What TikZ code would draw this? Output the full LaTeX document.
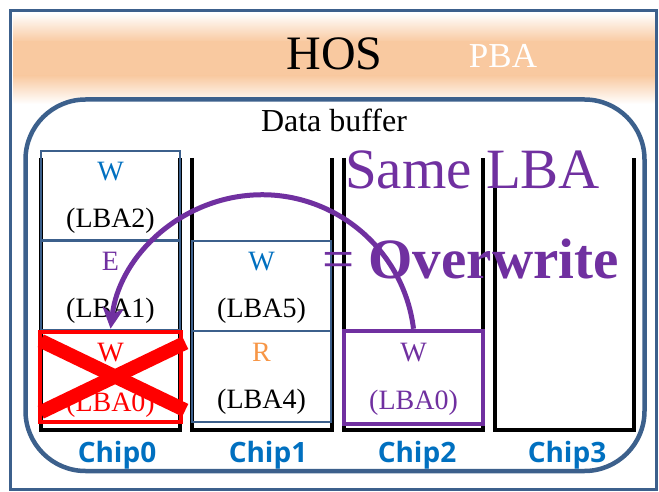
\documentclass[tikz,border=0pt]{standalone}
\usepackage{fontspec}
\setmainfont{Liberation Serif}
\newfontfamily\chipfont{Open Sans}
\usetikzlibrary{arrows.meta}
\definecolor{frameblue}{RGB}{60,96,140}
\definecolor{peach}{RGB}{249,201,160}
\definecolor{wblue}{RGB}{0,112,192}
\definecolor{vio}{RGB}{112,48,160}
\definecolor{rorange}{RGB}{247,150,70}
\newcommand{\pxsize}[1]{\fontsize{#1}{#1}\selectfont}
\begin{document}
\begin{tikzpicture}[x=1pt,y=-1pt,
  every node/.style={inner sep=0pt},
  cellbox/.style={draw=frameblue,line width=2.2,minimum width=139,minimum height=90},
  celltext/.style={font=\pxsize{28}},
  colline/.style={draw=black,line width=3.5,line join=miter},
  chiplabel/.style={anchor=base,text=wblue,font=\chipfont\bfseries\pxsize{28}},
  bigtext/.style={anchor=base west,text=vio,font=\pxsize{57}}]
\useasboundingbox (0,0) rectangle (659,492);

% heading band with soft edges
\fill[top color=white,bottom color=peach] (13,13) rectangle (655,42);
\fill[peach] (13,41.5) rectangle (655,76);
\fill[top color=peach,bottom color=white] (13,75.5) rectangle (655,104);

% outer frame
\draw[frameblue,line width=3] (10,10.5) rectangle (656.5,489.5);

\node[anchor=base,font=\pxsize{48}] (hos) at (334.5,70) {HOS};
\node[anchor=base,text=white,font=\pxsize{35}] (pba) at (503,68) {PBA};

% data buffer
\draw[frameblue,line width=4.5,fill=white,rounded corners=60] (25.5,99.5) rectangle (644.5,471);
\node[anchor=base,font=\pxsize{32}] (buf) at (334,132) {Data buffer};

% chip columns
\foreach \l/\r in {41/180,192/332,344/483,495/634}
  \draw[colline] (\l,158) -- (\l,430) -- (\r,430) -- (\r,158);

% pages
\node[cellbox,minimum height=89.5] (c0a) at (110.5,196) {};
\node[cellbox] (c0b) at (110.5,285.5) {};
\node[draw=red,line width=4.5,minimum width=141,minimum height=90] (c0c) at (110.5,377) {};
\node[cellbox] (c1a) at (261.5,286) {};
\node[cellbox,minimum height=91] (c1b) at (261.5,376.5) {};
\node[draw=vio,line width=4.5,minimum width=139,minimum height=93] (c2a) at (413.5,377.5) {};

\node[celltext,text=wblue,yshift=24] at (c0a) {W};
\node[celltext,yshift=-25] at (c0a) {(LBA2)};
\node[celltext,text=vio,yshift=24] at (c0b) {E};
\node[celltext,yshift=-25] at (c0b) {(LBA1)};
\node[celltext,text=red,yshift=24] at (c0c) {W};
\node[celltext,text=red,yshift=-28] at (c0c) {(LBA0)};
\node[celltext,text=wblue,yshift=24] at (c1a) {W};
\node[celltext,yshift=-25] at (c1a) {(LBA5)};
\node[celltext,text=rorange,yshift=24] at (c1b) {R};
\node[celltext,yshift=-25] at (c1b) {(LBA4)};
\node[celltext,text=vio,yshift=25] at (c2a) {W};
\node[celltext,text=vio,yshift=-25] at (c2a) {(LBA0)};

% chip names
\node[chiplabel] (l0) at (117,462) {Chip0};
\node[chiplabel] (l1) at (268,462) {Chip1};
\node[chiplabel] (l2) at (417,462) {Chip2};
\node[chiplabel] (l3) at (567,462) {Chip3};

% statement
\node[bigtext] (same) at (345,189) {Same LBA};
\node[bigtext] (ovw) at (322,278) {= \textbf{Overwrite}};

% overwrite arrow
\draw[vio,line width=5,-{Stealth[length=21pt,width=21pt,inset=6pt]}]
  (c2a.north) arc[start angle=-7,end angle=-173,radius=152.6];

% invalidated page
\draw[red,line width=14] ([shift={(3,11)}]c0c.north west) -- ([shift={(2,-14)}]c0c.south east);
\draw[red,line width=14] ([shift={(3,-12)}]c0c.south west) -- ([shift={(2,13)}]c0c.north east);
\end{tikzpicture}
\end{document}
